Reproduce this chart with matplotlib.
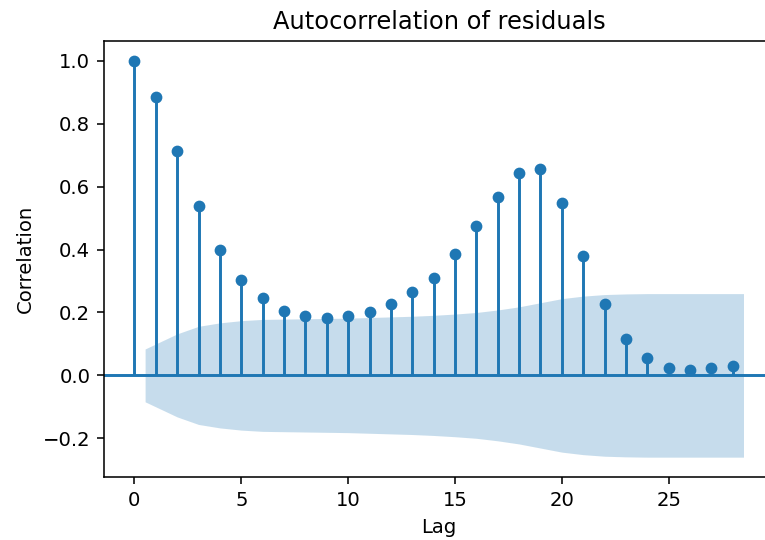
import numpy as np
import matplotlib
matplotlib.use("Agg")
import matplotlib.pyplot as plt

# autocorrelation of the residuals, lags 0..28
lags = np.arange(29)
acf_vals = [1.0, 0.885, 0.712, 0.540, 0.399, 0.302, 0.246, 0.206, 0.188, 0.182,
            0.188, 0.201, 0.226, 0.265, 0.310, 0.387, 0.476, 0.566, 0.642, 0.655,
            0.547, 0.379, 0.228, 0.117, 0.054, 0.022, 0.016, 0.022, 0.029]

# half-width of the 95% confidence band for lags 1..28
conf_half = [0.084, 0.132, 0.156, 0.167, 0.174, 0.178, 0.179, 0.180, 0.181, 0.182,
             0.184, 0.186, 0.188, 0.191, 0.195, 0.200, 0.208, 0.218, 0.231, 0.244,
             0.252, 0.257, 0.259, 0.260, 0.260, 0.260, 0.260, 0.260]

dpi = 141
fig = plt.figure(figsize=(765 / dpi, 540 / dpi), dpi=dpi)
# axes runs a little past the right edge of the canvas
ax = fig.add_axes([0.1359, 0.1167, 0.8758, 0.8073])

ax.vlines(lags, [0], acf_vals, colors="C0")
ax.axhline(0, color="C0")
ax.margins(0.05)
ax.plot(lags, acf_vals, marker="o", markersize=5, linestyle="None", color="C0")

band_x = lags[1:].astype(float)
band_x[0] -= 0.5
band_x[-1] += 0.5
half = np.array(conf_half)
ax.fill_between(band_x, -half, half, alpha=0.25, color="C0", linewidth=0)

ax.set_title("Autocorrelation of residuals", fontsize=12.3)
ax.set_xlabel("Lag")
ax.set_ylabel("Correlation")

fig.savefig("out.png", dpi=dpi)
